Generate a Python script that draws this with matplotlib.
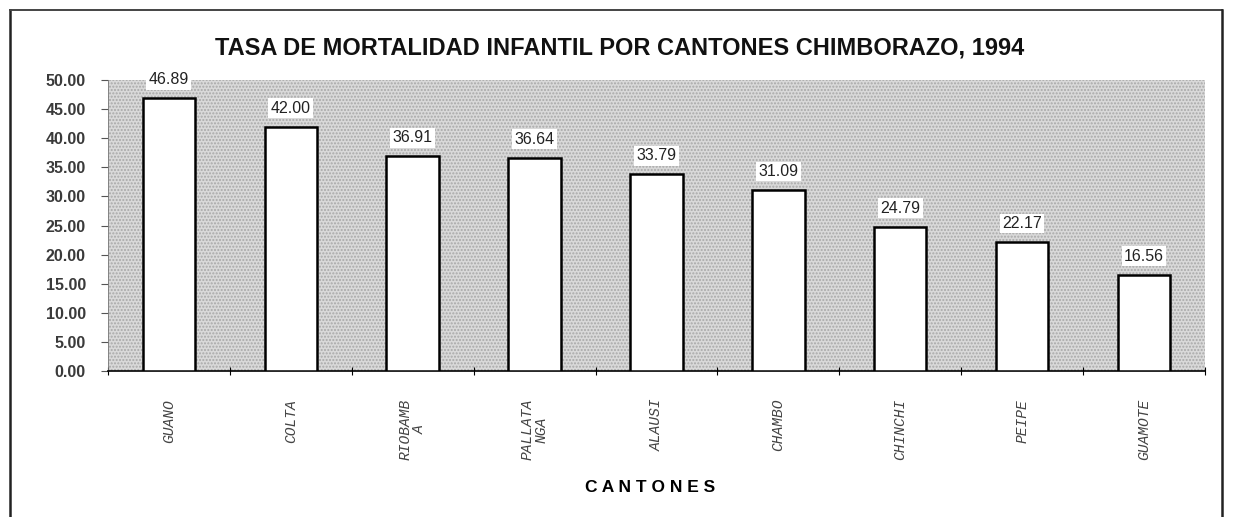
import matplotlib.pyplot as plt
import numpy as np
from matplotlib.lines import Line2D
from matplotlib.patches import Rectangle

cantones = ['GUANO', 'COLTA', 'RIOBAMB\nA', 'PALLATA\nNGA', 'ALAUSI',
            'CHAMBO', 'CHINCHI', 'PEIPE', 'GUAMOTE']
tasas = [46.89, 42.00, 36.91, 36.64, 33.79, 31.09, 24.79, 22.17, 16.56]
yticks = [0, 5, 10, 15, 20, 25, 30, 35, 40, 45, 50]

fig = plt.figure(figsize=(12.34, 5.17), dpi=100)
ax = fig.add_axes([0.0875, 0.2824, 0.889, 0.5626])

# fondo punteado
ax.set_facecolor('#d9d9d9')
ax.add_patch(Rectangle((0, 0), 1, 1, transform=ax.transAxes, fc='none',
                       ec='#a8a8a8', hatch='.....', lw=0, zorder=1))
plt.rcParams['hatch.linewidth'] = 0.4

x = np.arange(len(cantones))
ax.bar(x, tasas, width=0.43, color='white', edgecolor='black', linewidth=1.8, zorder=3)

for xi, v in zip(x, tasas):
    ax.text(xi, v + 1.9, f'{v:.2f}', ha='center', va='bottom', fontsize=11.5,
            family='Liberation Sans', color='#222222', zorder=4,
            bbox=dict(boxstyle='square,pad=0.15', fc='white', ec='none'))

ax.set_xlim(-0.5, len(cantones) - 0.5)
ax.set_ylim(0, 50)

ax.set_yticks(yticks)
ax.set_yticklabels([f'{t:.2f}' for t in yticks], fontsize=11.5,
                   family='Liberation Sans', fontweight='bold', color='#3a3a3a')
ax.tick_params(axis='y', length=5, width=0.8, color='#555555', pad=11)

ax.set_xticks(x)
ax.set_xticklabels(cantones, rotation=90, fontsize=10.5, family='Liberation Mono',
                   style='italic', color='#444444', va='top', linespacing=1.0)
ax.tick_params(axis='x', length=0, pad=20)
ax.set_xticks(np.arange(len(cantones) + 1) - 0.5, minor=True)
ax.tick_params(axis='x', which='minor', length=6, direction='inout', width=0.8)

for s in ['top', 'right']:
    ax.spines[s].set_visible(False)
ax.spines['left'].set_color('#777777')
ax.spines['left'].set_linewidth(0.6)
ax.spines['bottom'].set_linewidth(1.2)

ax.set_xlabel('C A N T O N E S', fontsize=12.5, fontweight='bold',
              family='Liberation Sans')
ax.xaxis.set_label_coords(0.494, -0.375)

fig.text(0.502, 0.907, 'TASA DE MORTALIDAD INFANTIL POR CANTONES CHIMBORAZO, 1994',
         ha='center', va='center', fontsize=17, fontweight='bold',
         family='Liberation Sans', color='#111111')

# marco exterior
W, H = 1234, 517
fig.add_artist(Line2D([10 / W, 10 / W], [0, 1 - 10 / H], transform=fig.transFigure,
                      color='#222222', lw=1.8))
fig.add_artist(Line2D([10 / W, 1222 / W], [1 - 10 / H, 1 - 10 / H], transform=fig.transFigure,
                      color='#444444', lw=1.4))
fig.add_artist(Line2D([1222 / W, 1222 / W], [0, 1 - 10 / H], transform=fig.transFigure,
                      color='#222222', lw=1.8))

fig.savefig('out.png', dpi=100)
